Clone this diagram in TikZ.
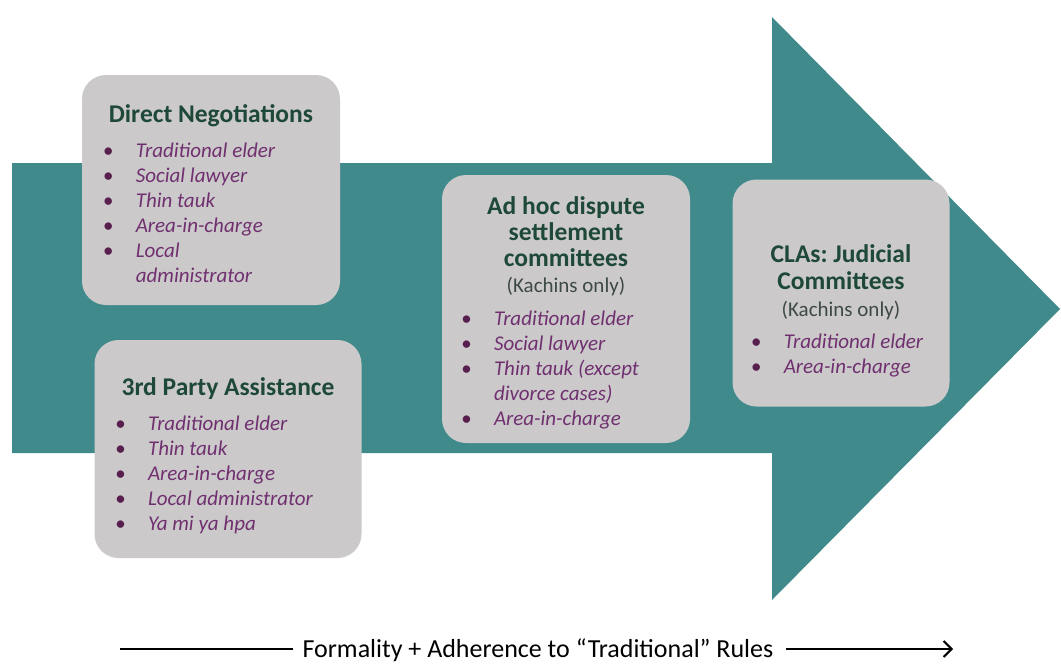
\documentclass[tikz,border=0pt]{standalone}
\usepackage{fontspec}
\setmainfont{Carlito}
\usepackage{tikz}
\usetikzlibrary{arrows}
\usetikzlibrary{arrows.meta}
\usetikzlibrary{positioning}
\frenchspacing

\definecolor{arrowteal}{RGB}{64,138,140}
\definecolor{panelgray}{RGB}{203,201,202}
\definecolor{titlegreen}{RGB}{30,72,55}
\definecolor{itempurple}{RGB}{112,48,112}
\definecolor{bulletpurple}{RGB}{88,30,78}
\definecolor{notegray}{RGB}{62,74,70}

\tikzstyle{every node}+=[inner sep=0pt]
\tikzstyle{panel} = [rectangle, fill=panelgray, rounded corners=24pt]
\tikzstyle{paneltext} = [align=center, text=titlegreen, font=\fontsize{25.5}{26}\selectfont\bfseries]
\tikzstyle{line} = [draw, line width=2pt]

\newcommand{\note}[1]{{\fontsize{21}{26}\selectfont\mdseries\color{notegray}#1}}
\newcommand{\itm}{\makebox[33pt][l]{\color{bulletpurple}\textbullet}}
\newenvironment{items}{\fontsize{21}{25}\selectfont\mdseries\itshape\color{itempurple}\begin{tabular}{@{}l@{}}}{\end{tabular}}

\begin{document}
\begin{tikzpicture}[x=1pt, y=-1pt]
  \useasboundingbox (0,0) rectangle (1061,664);
  % Big arrow
  \fill [arrowteal] (12,163) -- (772,163) -- (772,17) -- (1060,309)
    -- (772,600) -- (772,453) -- (12,453) -- cycle;
  % Place panels
  \node [panel, minimum width=258pt, minimum height=230pt] (direct) at (211,190) {};
  \node [panel, minimum width=267pt, minimum height=218pt] (third) at (228,449) {};
  \node [panel, minimum width=248pt, minimum height=268pt] (adhoc) at (566,309) {};
  \node [panel, minimum width=217pt, minimum height=227pt] (clas) at (841,293) {};
  % Panel texts
  \node [paneltext, below=30pt of direct.north] (directtext) {
    Direct Negotiations\\[12pt]
    \begin{items}
      \itm Traditional elder\\
      \itm Social lawyer\\
      \itm Thin tauk\\
      \itm Area-in-charge\\
      \itm Local\\
      \hspace*{33pt}administrator
    \end{items}\hspace*{44pt}};
  \node [paneltext, below=38pt of third.north] (thirdtext) {
    3rd Party Assistance\\[12pt]
    \begin{items}
      \itm Traditional elder\\
      \itm Thin tauk\\
      \itm Area-in-charge\\
      \itm Local administrator\\
      \itm Ya mi ya hpa
    \end{items}\hspace*{28pt}};
  \node [paneltext, below=22pt of adhoc.north] (adhoctext) {
    Ad hoc dispute\\
    settlement\\
    committees\\
    \note{(Kachins only)}\\[11pt]
    \begin{items}
      \itm Traditional elder\\
      \itm Social lawyer\\
      \itm Thin tauk (except\\
      \hspace*{33pt}divorce cases)\\
      \itm Area-in-charge
    \end{items}\hspace*{32pt}};
  \node [paneltext, below=65pt of clas.north] (clastext) {
    CLAs: Judicial\\[1pt]
    Committees\\[1pt]
    \note{(Kachins only)}\\[10pt]
    \begin{items}
      \itm Traditional elder\\
      \itm Area-in-charge
    \end{items}\hspace*{8pt}};
  % Bottom axis
  \node [font=\fontsize{26}{30}\selectfont, anchor=base] (caption) at (538,657)
    {Formality + Adherence to ``Traditional'' Rules};
  \coordinate (capl) at (120,649);
  \coordinate (capr) at (953,649);
  \path [line] (capl) -- ([xshift=-9pt]capl -| caption.west);
  \path [line, -{Straight Barb[length=8pt, width=16pt]}] ([xshift=12pt]capr -| caption.east) -- (capr);
\end{tikzpicture}
\end{document}
